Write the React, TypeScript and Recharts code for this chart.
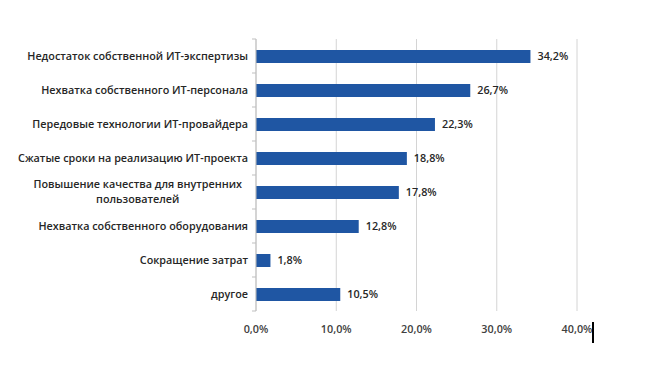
import * as React from "react";
import {
  BarChart,
  Bar,
  XAxis,
  YAxis,
  CartesianGrid,
  LabelList,
} from "recharts";

// reasons, top to bottom
const REASONS = [
  "Недостаток собственной ИТ-экспертизы",
  "Нехватка собственного ИТ-персонала",
  "Передовые технологии ИТ-провайдера",
  "Сжатые сроки на реализацию ИТ-проекта",
  "Повышение качества для внутренних пользователей",
  "Нехватка собственного оборудования",
  "Сокращение затрат",
  "другое",
];

const SHARES = [34.2, 26.7, 22.3, 18.8, 17.8, 12.8, 1.8, 10.5];

const X_TICKS = [0, 10, 20, 30, 40];

// two-line label the way the source wraps it
const WRAPPED: Record<string, string[]> = {
  "Повышение качества для внутренних пользователей": [
    "Повышение качества для внутренних",
    "пользователей",
  ],
};

const data = REASONS.map((reason, i) => ({ reason, share: SHARES[i] }));

const BAR_COLOR = "#1F56A3";
const TEXT_COLOR = "#262626";
const FONT = "'Open Sans', sans-serif";
const FS = 10.8;

const W = 648;
const H = 366;
const MARGIN = { top: 39, right: 71, bottom: 25, left: 0 };
const X_AXIS_H = 30;
const BAND = (H - MARGIN.top - MARGIN.bottom - X_AXIS_H) / REASONS.length;

const pct = (v: number) => v.toFixed(1).replace(".", ",") + "%";

const textProps = {
  fontFamily: FONT,
  fontSize: FS,
  fontWeight: 600,
  fill: TEXT_COLOR,
};

// centred two-line block whose widest line ends at `right`
function WrappedLabel({ right, y, lines }: { right: number; y: number; lines: string[] }) {
  const ref = React.useRef<SVGTextElement>(null);
  const [w, setW] = React.useState(0);
  React.useLayoutEffect(() => {
    if (ref.current) setW(ref.current.getComputedTextLength());
  }, []);
  const cx = right - w / 2;
  return (
    <>
      <text ref={ref} {...textProps} x={cx} y={y - 4} textAnchor="middle">
        {lines[0]}
      </text>
      <text {...textProps} x={cx} y={y + 11} textAnchor="middle">
        {lines[1]}
      </text>
    </>
  );
}

function ReasonTick({ x, y, payload, index }: any) {
  const lines = WRAPPED[payload.value];
  return (
    <g>
      {/* boundary tick above the band */}
      <line x1={x + 4} x2={x + 8} y1={y - BAND / 2} y2={y - BAND / 2} stroke="#BFBFBF" />
      {index === REASONS.length - 1 && (
        <line x1={x + 4} x2={x + 8} y1={y + BAND / 2} y2={y + BAND / 2} stroke="#BFBFBF" />
      )}
      {lines ? (
        <WrappedLabel right={x - 6} y={y} lines={lines} />
      ) : (
        <text {...textProps} x={x} y={y + 4} textAnchor="end">
          {payload.value}
        </text>
      )}
    </g>
  );
}

export default function App() {
  return (
    <div
      style={{
        position: "fixed",
        left: 0,
        top: 0,
        width: W,
        height: H,
        background: "#fff",
      }}
    >
      <BarChart width={W} height={H} data={data} layout="vertical" margin={MARGIN}>
        <CartesianGrid horizontal={false} stroke="#D4D4D4" />
        <XAxis
          type="number"
          domain={[0, 40]}
          ticks={X_TICKS}
          tickFormatter={pct}
          axisLine={false}
          tickLine={false}
          height={X_AXIS_H}
          tickMargin={8}
          tick={{ fontSize: FS, fontFamily: FONT, fontWeight: 600, fill: "#404040" }}
        />
        <YAxis
          type="category"
          dataKey="reason"
          width={256}
          axisLine={{ stroke: "#BFBFBF" }}
          tickLine={false}
          tickSize={0}
          tickMargin={8}
          tick={<ReasonTick />}
          interval={0}
        />
        <Bar dataKey="share" fill={BAR_COLOR} barSize={13} isAnimationActive={false}>
          <LabelList
            dataKey="share"
            position="right"
            offset={7}
            formatter={pct}
            style={{ fontSize: FS, fontFamily: FONT, fontWeight: 600, fill: TEXT_COLOR }}
          />
        </Bar>
      </BarChart>
      {/* stray text cursor in the source image */}
      <div
        style={{
          position: "absolute",
          left: 592,
          top: 322,
          width: 2,
          height: 21,
          background: "#000",
        }}
      />
    </div>
  );
}
